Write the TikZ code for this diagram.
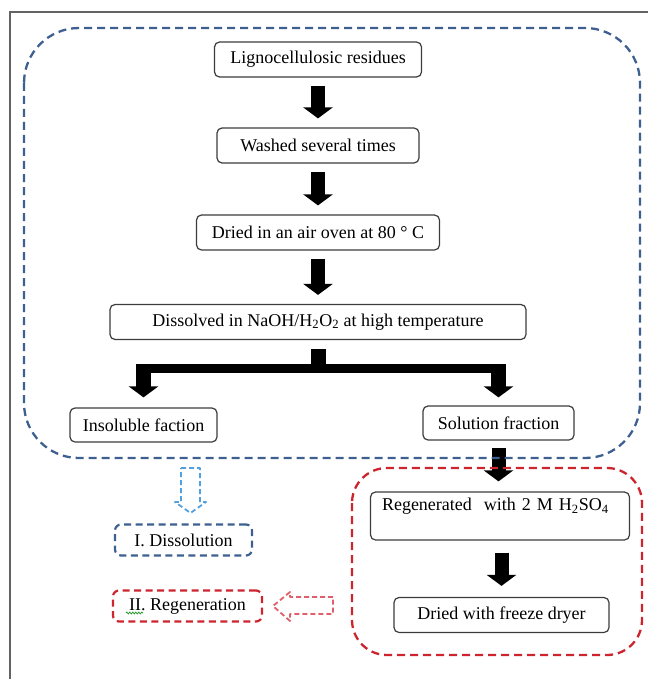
\documentclass[tikz,border=0pt]{standalone}
\usepackage{fontspec}
\setmainfont{Liberation Serif}
\usetikzlibrary{arrows.meta, positioning, calc, decorations.pathmorphing}
\definecolor{dissblue}{RGB}{62, 96, 145}
\definecolor{regred}{RGB}{205, 36, 46}
\definecolor{hintblue}{RGB}{84, 160, 220}
\definecolor{hintred}{RGB}{222, 96, 106}
\definecolor{edgegray}{RGB}{60, 60, 60}
\definecolor{spellgreen}{RGB}{40, 150, 40}
\tikzset{
  stepbox/.style={draw=edgegray, line width=1.2pt, rounded corners=5pt, fill=white,
                  minimum height=35pt, inner sep=4pt, font=\fontsize{18}{21}\selectfont},
  blockarrow/.style={line width=14pt, -{Triangle[length=11pt, width=29pt]},
                     shorten <=8pt, shorten >=9pt},
  stagebox/.style={line width=2.3pt, dash pattern=on 8pt off 5pt, rounded corners=#1},
  tagbox/.style={line width=2.2pt, dash pattern=on 7pt off 4.5pt, rounded corners=6pt,
                 minimum height=31pt, inner sep=3pt, font=\fontsize{18}{21}\selectfont},
  hintarrow/.style={line width=1.8pt, dash pattern=on 5pt off 3pt, line join=round}
}

\begin{document}
\begin{tikzpicture}[x=1pt, y=-1pt]
  \useasboundingbox (0,0) rectangle (648,679);
  \draw[edgegray!80, line width=1.5pt] (10,679) -- (10,12) -- (648,12);

  \node[stepbox, minimum width=207pt] (res) at (318, 59.5) {Lignocellulosic residues};
  \node[stepbox, minimum width=202pt] (wash) at (318, 145.5) {Washed several times};
  \node[stepbox, minimum width=243pt] (dry) at (318, 232.5) {Dried in an air oven at 80 ° C};
  \node[stepbox, minimum width=416pt] (dis) at (318, 322)
       {Dissolved in NaOH/H\textsubscript{2}O\textsubscript{2} at high temperature};
  \node[stepbox, minimum width=147pt, minimum height=34pt] (insol) at (143.5, 425) {Insoluble faction};
  \node[stepbox, minimum width=151pt, minimum height=34pt] (sol) at (498.5, 423) {Solution fraction};
  \node[stepbox, minimum width=259pt, minimum height=48pt, text width=236pt, align=left]
       (regen) at (500, 516) {Regenerated\ \ with 2 M H\textsubscript{2}SO\textsubscript{4}\\[2pt]\mbox{}};
  \node[stepbox, minimum width=215pt] (frz) at (501.5, 615) {Dried with freeze dryer};

  \draw[blockarrow] (res) -- (wash);
  \draw[blockarrow] (wash) -- (dry);
  \draw[blockarrow] (dry) -- (dis);

  \coordinate (split) at (318, 368.5);
  \draw[line width=15pt, shorten <=9pt] (dis.south) -- (dis.south |- split) -- ++(0,4);
  \draw[line width=9pt] ([xshift=-7.5pt]insol.north |- split) -- ([xshift=7.5pt]sol.north |- split);
  \draw[blockarrow, line width=15pt, shorten <=0pt, shorten >=10pt] (insol.north |- split) -- (insol);
  \draw[blockarrow, line width=15pt, shorten <=0pt, shorten >=8pt] (sol.north |- split) -- (sol);
  \draw[blockarrow, shorten <=7pt, shorten >=10pt] (sol) -- (sol |- regen.north);
  \draw[blockarrow, shorten <=12pt, shorten >=11pt] (regen.south -| frz) -- (frz);

  \draw[stagebox=55pt, draw=dissblue] (24,28) rectangle (640,458);
  \draw[stagebox=35pt, draw=regred] (352,468) rectangle (642,655);

  \node[tagbox, draw=dissblue, minimum width=137pt] (tagdis) at (183.5, 540) {I. Dissolution};
  \node[tagbox, draw=regred, minimum width=149pt] (tagreg) at (187.5, 606) {II. Regeneration};
  \draw[spellgreen, line width=0.8pt, decorate, decoration={snake, amplitude=0.9pt, segment length=3pt}]
       ([xshift=14pt, yshift=-7pt]tagreg.west) -- ++(17,0);

  \draw[hintarrow, hintblue] (181,468) -- (200,468) -- (200,502) -- (206,502) -- (190.5,513)
       -- (175,502) -- (181,502) -- cycle;
  \draw[hintarrow, hintred] (333,597) -- (290,597) -- (290,592) -- (273,606) -- (290,621)
       -- (290,614) -- (333,614) -- cycle;
\end{tikzpicture}
\end{document}
